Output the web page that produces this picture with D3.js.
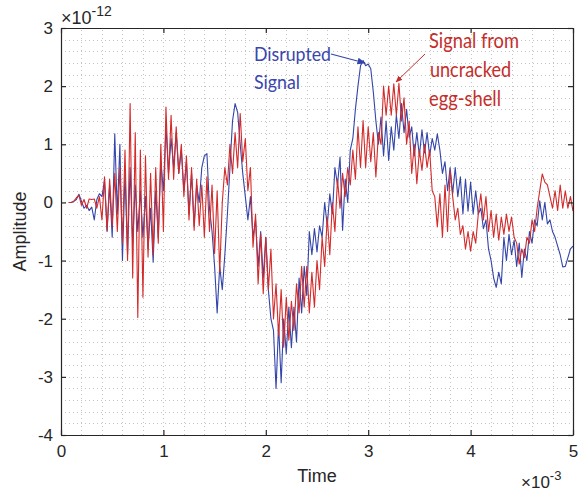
<!DOCTYPE html>
<html>
<head>
<meta charset="utf-8">
<script src="https://cdn.jsdelivr.net/npm/d3@7"></script>
<style>
  body { margin: 0; background: #fff; }
  svg { display: block; }
</style>
</head>
<body>
<div id="chart"></div>
<script>
// sampling of both traces (time in units of 1e-3 s)
const t0 = 0.075;
const dt = 0.025;

// amplitude in units of 1e-12
const disrupted = [
  0, 0, 0.02, 0.05, 0.14, 0.02, -0.1, -0.05, -0.14, -0.08,
  -0.3, 0.05, 0.15, 0.1, 0.38, -0.5, 0.3, -0.6, 1.18, -0.2,
  1.0, -1.0, 0.5, -0.9, 0.6, -0.7, 0.3, -0.5, 0.2, -0.6,
  0.1, -0.8, -0.1, -1.03, 0.2, -0.6, 0.7, 0.2, 1.3, 0.5,
  1.1, 0.6, 1.2, 0.5, 0.9, 0.2, 0.7, -0.2, 0.5, -0.4,
  0.3, 0.0, 0.6, 0.8, 0.84, -0.1, -0.5, -1.1, -1.9, -1.1,
  -1.5, -0.9, -0.2, 0.6, 1.4, 1.7, 1.55, 1.0, 0.5, 0.1,
  -0.3, 0.1, -0.6, -0.3, -1.1, -0.5, -1.3, -0.6, -1.5, -2.0,
  -2.2, -3.2, -2.1, -3.1, -2.0, -2.6, -1.8, -2.5, -1.8, -2.4,
  -1.3, -1.9, -1.1, -1.6, -0.5, -0.9, -0.45, -0.85, -0.4, -0.6,
  0.0, -0.4, 0.15, -0.2, 0.6, 0.3, 0.78, -0.48, 0.4, 0.0,
  0.9, 1.1, 1.6, 2.0, 2.35, 2.44, 2.35, 2.38, 2.3, 1.9,
  1.4, 1.0, 1.47, 0.8, 1.4, 0.72, 1.3, 0.9, 1.5, 1.1,
  1.7, 1.2, 1.6, 1.12, 1.3, 0.8, 1.2, 0.8, 1.25, 0.85,
  1.2, 0.8, 1.1, 0.9, 1.18, 0.9, 0.5, 0.7, 0.2, 0.6,
  0.15, 0.6, 0.1, 0.44, -0.2, 0.4, -0.15, 0.35, -0.2, 0.2,
  -0.2, -0.1, -0.45, -0.3, -0.8, -1.0, -1.3, -1.46, -1.2, -1.4,
  -0.6, -1.0, -0.55, -0.9, -0.65, -1.1, -0.7, -1.29, -0.8, -1.0,
  -0.5, -0.7, -0.3, -0.4, 0.03, -0.3, 0.0, -0.37, -0.3, -0.5,
  -0.6, -0.75, -0.9, -1.11, -1.1, -0.95, -0.8, -0.75
];

const uncracked = [
  0, 0, 0.02, 0.08, 0.12, -0.05, 0.05, -0.1, 0.06, 0.05,
  0.06, -0.1, 0.1, -0.3, 0.44, -0.48, 0.4, -0.4, 0.5, -0.5,
  0.6, -0.7, 0.9, -1.0, 1.7, -1.3, 1.2, -1.98, 0.9, -1.63,
  0.8, -0.94, 0.5, -0.9, 0.6, -0.7, 1.0, -0.5, 1.64, 0.4,
  1.5, 0.4, 1.3, 0.5, 1.0, 0.1, 0.8, -0.3, 0.6, -0.48,
  0.4, -0.4, 0.3, -0.6, 0.44, -0.5, 0.3, -0.88, 0.2, -1.2,
  0.0, 0.6, 0.3, 1.0, 0.5, 1.2, 0.6, 1.53, 0.7, 1.1,
  0.2, 0.6, -0.77, -0.2, -1.4, -0.54, -1.57, -0.6, -1.5, -0.8,
  -2.0, -1.4, -2.3, -1.5, -2.49, -1.63, -2.37, -1.7, -2.2, -1.4,
  -1.9, -1.1, -1.8, -1.1, -1.9, -1.2, -1.8, -1.0, -1.5, -0.6,
  -1.1, -0.25, -0.9, 0.0, -0.5, 0.4, -0.1, 0.5, 0.1, 0.6,
  0.3, 0.9, 0.4, 1.3, 0.6, 1.41, 0.6, 1.3, 0.7, 1.2,
  0.44, 1.2, 1.0, 2.0, 1.5, 2.0, 1.5, 2.04, 1.5, 2.05,
  1.4, 1.8, 1.0, 1.4, 0.5, 1.0, 0.32, 0.9, 0.55, 1.0,
  0.6, 0.9, 0.2, 0.1, -0.42, 0.15, -0.6, 0.3, -0.5, 0.55,
  0.1, -0.3, -0.1, -0.55, -0.4, -0.8, -0.5, -0.84, -0.5, -0.7,
  -0.2, 0.15, -0.3, 0.1, -0.5, -0.14, -0.6, -0.2, -0.65, -0.25,
  -0.55, -0.2, -0.5, -0.25, -0.6, -0.7, -1.06, -0.8, -0.95, -0.6,
  -0.7, -0.3, -0.5, -0.1, 0.2, 0.49, 0.35, 0.3, 0.1, -0.1,
  0.2, -0.14, 0.3, -0.1, 0.2, -0.1, 0.1, -0.15
];

const xTicks = [0, 1, 2, 3, 4, 5];
const yTicks = [-4, -3, -2, -1, 0, 1, 2, 3];

const width = 581, height = 493;
const margin = { top: 28, right: 8, bottom: 58, left: 61 };

const svg = d3.select("#chart")
  .append("svg")
  .attr("width", width)
  .attr("height", height);

const x = d3.scaleLinear().domain([0, 5]).range([margin.left, width - margin.right]);
const y = d3.scaleLinear().domain([-4, 3]).range([height - margin.bottom, margin.top]);

const axisColor = "#262626";
const tickFont = "'Liberation Sans', Arial, Helvetica, sans-serif";
const noteFont = "Lato, 'Open Sans', sans-serif";

// dotted grid (minor every 0.2)
const grid = svg.append("g").attr("stroke", "#c4c4c4").attr("stroke-width", 1)
  .attr("stroke-dasharray", "1,3");
d3.range(-3.8, 3, 0.2).forEach(v => {
  grid.append("line")
    .attr("x1", x(0)).attr("x2", x(5))
    .attr("y1", Math.round(y(v)) + 0.5).attr("y2", Math.round(y(v)) + 0.5);
});
d3.range(0.2, 5, 0.2).forEach(v => {
  grid.append("line")
    .attr("y1", y(-4)).attr("y2", y(3))
    .attr("x1", Math.round(x(v)) + 0.5).attr("x2", Math.round(x(v)) + 0.5);
});

// traces
const line = d3.line()
  .x((d, i) => x(t0 + i * dt))
  .y(d => y(d));

svg.append("path")
  .datum(disrupted)
  .attr("fill", "none")
  .attr("stroke", "#3344aa")
  .attr("stroke-width", 1.1)
  .attr("stroke-linejoin", "round")
  .attr("d", line);

svg.append("path")
  .datum(uncracked)
  .attr("fill", "none")
  .attr("stroke", "#d42a2a")
  .attr("stroke-width", 1.1)
  .attr("stroke-linejoin", "round")
  .attr("d", line);

// axes with inward ticks, box on
const tickLen = 5;
const fmt = d => String(d);
svg.append("g")
  .attr("transform", `translate(0,${y(-4)})`)
  .call(d3.axisBottom(x).tickValues(xTicks).tickFormat(fmt).tickSizeInner(-tickLen).tickSizeOuter(0).tickPadding(10))
  .call(g => g.selectAll("text").attr("font-size", 17).attr("font-family", tickFont).attr("fill", axisColor));

svg.append("g")
  .attr("transform", `translate(0,${y(3)})`)
  .call(d3.axisTop(x).tickValues(xTicks).tickSizeInner(-tickLen).tickSizeOuter(0).tickFormat(""));

svg.append("g")
  .attr("transform", `translate(${x(0)},0)`)
  .call(d3.axisLeft(y).tickValues(yTicks).tickFormat(fmt).tickSizeInner(-tickLen).tickSizeOuter(0).tickPadding(8))
  .call(g => g.selectAll("text").attr("font-size", 17).attr("font-family", tickFont).attr("fill", axisColor));

svg.append("g")
  .attr("transform", `translate(${x(5)},0)`)
  .call(d3.axisRight(y).tickValues(yTicks).tickSizeInner(-tickLen).tickSizeOuter(0).tickFormat(""));

svg.selectAll(".domain").attr("stroke", axisColor).attr("stroke-width", 1.2);
svg.selectAll(".tick line").attr("stroke", axisColor).attr("stroke-width", 1.2);

// axis titles
svg.append("text")
  .attr("x", (x(0) + x(5)) / 2).attr("y", 482)
  .attr("text-anchor", "middle")
  .attr("font-family", tickFont).attr("font-size", 18).attr("fill", axisColor)
  .text("Time");

svg.append("text")
  .attr("transform", `translate(26,${(y(-4) + y(3)) / 2}) rotate(-90)`)
  .attr("text-anchor", "middle")
  .attr("font-family", tickFont).attr("font-size", 18).attr("fill", axisColor)
  .text("Amplitude");

// exponent labels
const expTop = svg.append("text")
  .attr("x", 61).attr("y", 24)
  .attr("font-family", tickFont).attr("font-size", 18).attr("fill", axisColor);
expTop.append("tspan").text("\u00d710");
expTop.append("tspan").attr("dy", -8).attr("font-size", 14).text("-12");

const expBot = svg.append("text")
  .attr("x", 521).attr("y", 488)
  .attr("font-family", tickFont).attr("font-size", 17).attr("fill", axisColor);
expBot.append("tspan").text("\u00d710");
expBot.append("tspan").attr("dy", -8).attr("font-size", 13).text("-3");

// annotations
const defs = svg.append("defs");
[["headBlue", "#3344aa"], ["headRed", "#c0302c"]].forEach(([id, c]) => {
  defs.append("marker")
    .attr("id", id)
    .attr("viewBox", "0 0 10 10")
    .attr("refX", 9).attr("refY", 5)
    .attr("markerWidth", 7).attr("markerHeight", 7)
    .attr("orient", "auto")
    .append("path")
    .attr("d", "M0,1 L10,5 L0,9 Z")
    .attr("fill", c);
});

const blueNote = [["Disrupted", 254, 61, 77], ["Signal", 254, 89, 46]];
blueNote.forEach(([s, tx, ty, w]) => {
  svg.append("text")
    .attr("x", tx).attr("y", ty)
    .attr("font-family", noteFont).attr("font-size", 20).attr("fill", "#3a46ad")
    .attr("textLength", w).attr("lengthAdjust", "spacingAndGlyphs")
    .text(s);
});
svg.append("line")
  .attr("x1", 331).attr("y1", 54).attr("x2", 365).attr("y2", 63)
  .attr("stroke", "#3344aa").attr("stroke-width", 1.2)
  .attr("marker-end", "url(#headBlue)");

const redNote = [["Signal from", 429, 48, 90], ["uncracked", 430, 77, 81], ["egg-shell", 429, 106, 72]];
redNote.forEach(([s, tx, ty, w]) => {
  svg.append("text")
    .attr("x", tx).attr("y", ty)
    .attr("font-family", noteFont).attr("font-size", 21).attr("fill", "#c42e2a")
    .attr("textLength", w).attr("lengthAdjust", "spacingAndGlyphs")
    .text(s);
});
svg.append("line")
  .attr("x1", 425).attr("y1", 54).attr("x2", 396).attr("y2", 82)
  .attr("stroke", "#c0302c").attr("stroke-width", 1)
  .attr("marker-end", "url(#headRed)");
</script>
</body>
</html>
